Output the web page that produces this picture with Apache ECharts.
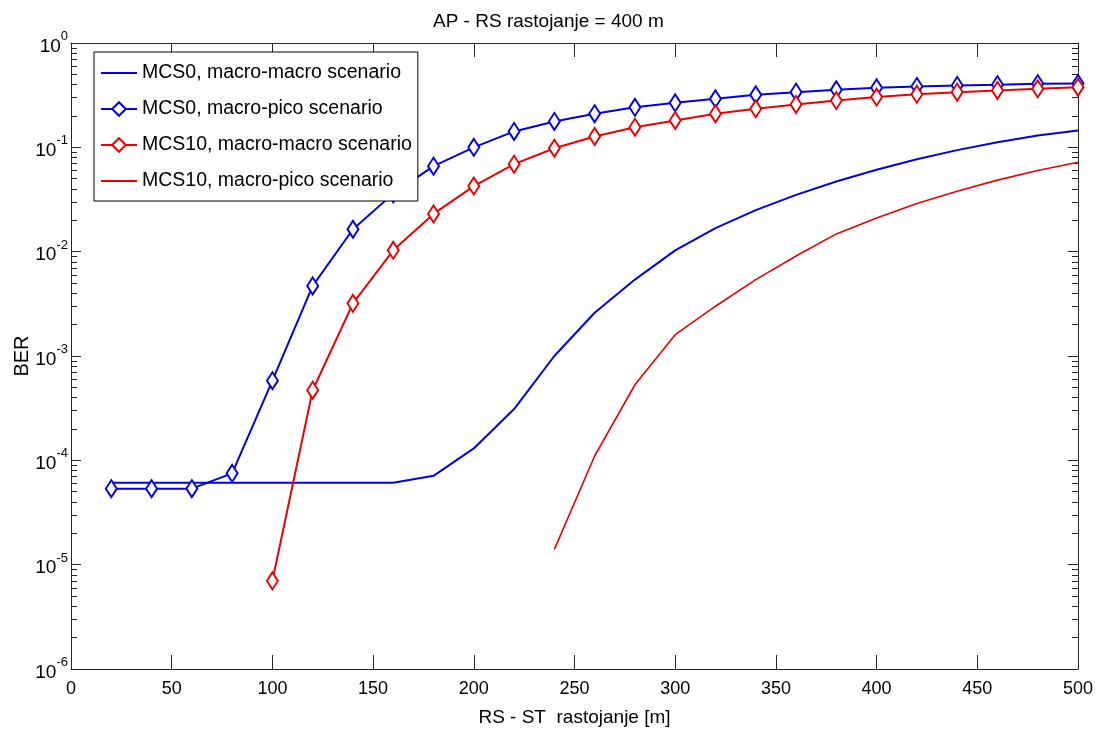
<!DOCTYPE html>
<html>
<head>
<meta charset="utf-8">
<script src="https://cdn.jsdelivr.net/npm/echarts@6/dist/echarts.min.js"></script>
<style>
html,body{margin:0;padding:0;background:#fff;}
#chart{width:1100px;height:740px;}
</style>
</head>
<body>
<div id="chart"></div>
<script>
// ---- data ----
const titleText = 'AP - RS rastojanje = 400 m';
const xAxisName = 'RS - ST  rastojanje [m]';
const yAxisName = 'BER';
const seriesNames = [
  'MCS0, macro-macro scenario',
  'MCS0, macro-pico scenario',
  'MCS10, macro-macro scenario',
  'MCS10, macro-pico scenario'
];
const xTicks = [0, 50, 100, 150, 200, 250, 300, 350, 400, 450, 500];
const yTickExponents = [0, -1, -2, -3, -4, -5, -6];

const distMcs0 = [20, 40, 60, 80, 100, 120, 140, 160, 180, 200, 220, 240, 260, 280, 300, 320, 340, 360, 380, 400, 420, 440, 460, 480, 500];
const mcs0MacroMacro = [6.1e-5, 6.1e-5, 6.1e-5, 6.1e-5, 6.1e-5, 6.1e-5, 6.1e-5, 6.1e-5, 7.1e-5, 1.3e-4, 3.1e-4, 1.0e-3, 2.6e-3, 5.4e-3, 1.03e-2, 1.68e-2, 2.5e-2, 3.5e-2, 4.7e-2, 6.1e-2, 7.7e-2, 9.4e-2, 0.112, 0.13, 0.145];
const mcs0MacroPico = [5.35e-5, 5.35e-5, 5.35e-5, 7.5e-5, 5.8e-4, 4.7e-3, 1.64e-2, 3.6e-2, 6.6e-2, 0.1, 0.142, 0.177, 0.21, 0.242, 0.267, 0.292, 0.319, 0.338, 0.356, 0.372, 0.383, 0.392, 0.398, 0.407, 0.41];

const distMcs10MacroMacro = [100, 120, 140, 160, 180, 200, 220, 240, 260, 280, 300, 320, 340, 360, 380, 400, 420, 440, 460, 480, 500];
const mcs10MacroMacro = [7.0e-6, 4.7e-4, 3.2e-3, 1.03e-2, 2.3e-2, 4.25e-2, 6.9e-2, 9.8e-2, 0.127, 0.156, 0.181, 0.21, 0.234, 0.258, 0.281, 0.303, 0.322, 0.338, 0.351, 0.364, 0.377];

const distMcs10MacroPico = [240, 260, 280, 300, 320, 340, 360, 380, 400, 420, 440, 460, 480, 500];
const mcs10MacroPico = [1.4e-5, 1.1e-4, 5.3e-4, 1.6e-3, 3.0e-3, 5.4e-3, 9.1e-3, 1.48e-2, 2.1e-2, 2.9e-2, 3.8e-2, 4.85e-2, 6.0e-2, 7.2e-2];

// ---- helpers ----
const pairs = (xs, ys) => xs.map((x, i) => [x, ys[i]]);
const BLUE = '#0000e6';
const RED = '#ee0000';
const FONT = 'Liberation Sans';
const AXIS_COLOR = '#262626';
// plain line legend icon (tiny corner specks keep the bounding box full size)
const LINE_ICON = 'path://M0,0L0.01,0L0,0.01Z M0,7L36,7L36,9L0,9Z M36,16L35.99,16L36,15.99Z';

const yMinExp = Math.min(...yTickExponents);
const yMaxExp = Math.max(...yTickExponents);
const minorLogTicks = [];
for (let d = yMinExp; d < yMaxExp; d++) {
  for (let m = 2; m <= 9; m++) minorLogTicks.push(d + Math.log10(m));
}

const chart = echarts.init(document.getElementById('chart'), null, {renderer: 'canvas'});

const yLabelFormatter = v => {
  const e = Math.round(Math.log10(v));
  return '{b|10}{s|' + e + '}';
};

const minorAxis = (pos) => ({
  type: 'value', min: yMinExp, max: yMaxExp, position: pos,
  axisLine: {show: false, onZero: false},
  axisLabel: {show: false},
  splitLine: {show: false},
  axisTick: {show: true, inside: true, length: 6, customValues: minorLogTicks, lineStyle: {color: AXIS_COLOR, width: 1}}
});

const option = {
  backgroundColor: '#fff',
  animation: false,
  title: {
    text: titleText,
    left: 428, top: 7,
    textStyle: {fontFamily: FONT, fontSize: 19, fontWeight: 'normal', color: '#000'}
  },
  legend: {
    z: 20,
    orient: 'vertical',
    left: 94, top: 52,
    padding: [11, 6, 10, 6],
    itemGap: 16,
    itemWidth: 36, itemHeight: 17,
    backgroundColor: '#fff',
    borderColor: '#000', borderWidth: 1,
    textStyle: {fontFamily: FONT, fontSize: 19.5, color: '#000'},
    data: [
      {name: seriesNames[0], icon: LINE_ICON},
      {name: seriesNames[1]},
      {name: seriesNames[2]},
      {name: seriesNames[3], icon: LINE_ICON}
    ]
  },
  grid: {left: 71, right: 22, top: 43, bottom: 71, containLabel: false, outerBoundsMode: 'none'},
  xAxis: [
    {
      type: 'value', min: xTicks[0], max: xTicks[xTicks.length - 1], interval: xTicks[1] - xTicks[0],
      position: 'bottom',
      name: xAxisName, nameLocation: 'middle', nameGap: 39, nameMoveOverlap: false,
      nameTextStyle: {fontFamily: FONT, fontSize: 19, color: '#000'},
      axisLine: {show: true, onZero: false, lineStyle: {color: AXIS_COLOR, width: 1}},
      axisTick: {show: true, inside: true, length: 14, lineStyle: {color: AXIS_COLOR}},
      axisLabel: {fontFamily: FONT, fontSize: 18, color: '#000', margin: 11},
      splitLine: {show: false}
    },
    {
      type: 'value', min: xTicks[0], max: xTicks[xTicks.length - 1], interval: xTicks[1] - xTicks[0],
      position: 'top',
      axisLine: {show: true, onZero: false, lineStyle: {color: AXIS_COLOR, width: 1}},
      axisTick: {show: true, inside: true, length: 14, lineStyle: {color: AXIS_COLOR}},
      axisLabel: {show: false},
      splitLine: {show: false}
    }
  ],
  yAxis: [
    {
      type: 'log', logBase: 10, min: Math.pow(10, yMinExp), max: Math.pow(10, yMaxExp),
      position: 'left',
      name: yAxisName, nameLocation: 'middle', nameGap: 39, nameRotate: 90, nameMoveOverlap: false,
      nameTextStyle: {fontFamily: FONT, fontSize: 20, color: '#000'},
      axisLine: {show: true, onZero: false, lineStyle: {color: AXIS_COLOR, width: 1}},
      axisTick: {show: true, inside: true, length: 10, lineStyle: {color: AXIS_COLOR}},
      axisLabel: {
        formatter: yLabelFormatter, margin: 3, color: '#000',
        rich: {
          b: {fontFamily: FONT, fontSize: 19, color: '#000', verticalAlign: 'bottom', lineHeight: 26},
          s: {fontFamily: FONT, fontSize: 13, color: '#000', verticalAlign: 'top', lineHeight: 26}
        }
      },
      splitLine: {show: false}
    },
    {
      type: 'log', logBase: 10, min: Math.pow(10, yMinExp), max: Math.pow(10, yMaxExp),
      position: 'right',
      axisLine: {show: true, onZero: false, lineStyle: {color: AXIS_COLOR, width: 1}},
      axisTick: {show: true, inside: true, length: 10, lineStyle: {color: AXIS_COLOR}},
      axisLabel: {show: false},
      splitLine: {show: false}
    },
    minorAxis('left'),
    minorAxis('right')
  ],
  series: [
    {
      name: seriesNames[0], type: 'line', data: pairs(distMcs0, mcs0MacroMacro),
      symbol: 'none', color: BLUE,
      lineStyle: {color: BLUE, width: 2}, z: 2
    },
    {
      name: seriesNames[1], type: 'line', data: pairs(distMcs0, mcs0MacroPico),
      symbol: 'emptyDiamond', symbolSize: [11, 17], showSymbol: true, color: BLUE,
      itemStyle: {color: BLUE, borderColor: BLUE, borderWidth: 1.8},
      lineStyle: {color: BLUE, width: 2}, z: 2
    },
    {
      name: seriesNames[2], type: 'line', data: pairs(distMcs10MacroMacro, mcs10MacroMacro),
      symbol: 'emptyDiamond', symbolSize: [11, 17], showSymbol: true, color: RED,
      itemStyle: {color: RED, borderColor: RED, borderWidth: 1.8},
      lineStyle: {color: RED, width: 2}, z: 2
    },
    {
      name: seriesNames[3], type: 'line', data: pairs(distMcs10MacroPico, mcs10MacroPico),
      symbol: 'none', color: RED,
      lineStyle: {color: RED, width: 1.6}, z: 2
    }
  ]
};
chart.setOption(option);
</script>
</body>
</html>
